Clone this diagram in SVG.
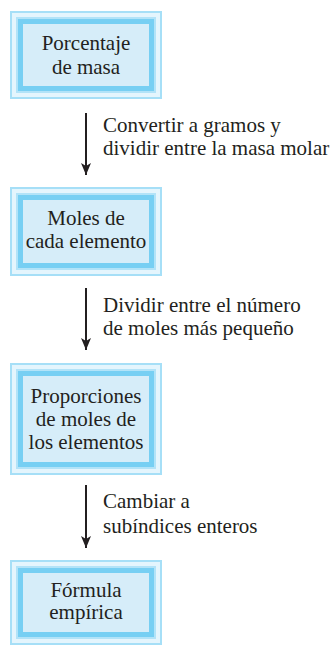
<svg xmlns="http://www.w3.org/2000/svg" width="336" height="645" viewBox="0 0 336 645">
<style>
.b0{fill:#a6dff7}
.b1{fill:#e4f5fd}
.b2{fill:#b2e3f8}
.b3{fill:#77cff3}
.b4{fill:#d6edf9}
.t{font-family:'Liberation Serif',serif !important;font-size:21px;fill:#231f20}
.c{text-anchor:middle}
.arr{stroke:#231f20;stroke-width:2;fill:none}
</style>
<defs>
<marker id="ah" viewBox="0 0 12 10" refX="12" refY="5" markerWidth="12" markerHeight="10" markerUnits="userSpaceOnUse" orient="auto">
<path d="M0,0 L12,5 L0,10 L3,5 Z" fill="#231f20"/>
</marker>
</defs>
<rect width="336" height="645" fill="#ffffff"/>
<g id="connectors">
<line class="arr" x1="86" y1="113" x2="86" y2="175" marker-end="url(#ah)"/>
<line class="arr" x1="86" y1="288" x2="86" y2="350" marker-end="url(#ah)"/>
<line class="arr" x1="86" y1="485" x2="86" y2="548" marker-end="url(#ah)"/>
</g>
<g id="label1">
<text class="t" x="103" y="132" style="font-family:'Liberation Serif',serif">Convertir a gramos y</text>
<text class="t" x="103" y="155" style="font-family:'Liberation Serif',serif">dividir entre la masa molar</text>
</g>
<g id="label2">
<text class="t" x="103" y="312" style="font-family:'Liberation Serif',serif">Dividir entre el número</text>
<text class="t" x="103" y="335" style="font-family:'Liberation Serif',serif">de moles más pequeño</text>
</g>
<g id="label3">
<text class="t" x="103" y="508" style="font-family:'Liberation Serif',serif">Cambiar a</text>
<text class="t" x="103" y="533" style="font-family:'Liberation Serif',serif">subíndices enteros</text>
</g>
<g id="node1">
<rect class="b0" x="10" y="11" width="152" height="88"/>
<rect class="b1" x="12" y="13" width="148" height="84"/>
<rect class="b2" x="16" y="17" width="140" height="76"/>
<rect class="b3" x="18" y="19" width="136" height="72"/>
<rect class="b4" x="23" y="24" width="126" height="62"/>
<text class="t c" x="86" y="50" style="font-family:'Liberation Serif',serif">Porcentaje</text>
<text class="t c" x="86" y="74" style="font-family:'Liberation Serif',serif">de masa</text>
</g>
<g id="node2">
<rect class="b0" x="10" y="187" width="152" height="89"/>
<rect class="b1" x="12" y="189" width="148" height="85"/>
<rect class="b2" x="16" y="193" width="140" height="77"/>
<rect class="b3" x="18" y="195" width="136" height="73"/>
<rect class="b4" x="23" y="200" width="126" height="63"/>
<text class="t c" x="86" y="225" style="font-family:'Liberation Serif',serif">Moles de</text>
<text class="t c" x="86" y="248" style="font-family:'Liberation Serif',serif">cada elemento</text>
</g>
<g id="node3">
<rect class="b0" x="10" y="363" width="152" height="112"/>
<rect class="b1" x="12" y="365" width="148" height="108"/>
<rect class="b2" x="16" y="369" width="140" height="100"/>
<rect class="b3" x="18" y="371" width="136" height="96"/>
<rect class="b4" x="23" y="376" width="126" height="86"/>
<text class="t c" x="86" y="403" style="font-family:'Liberation Serif',serif">Proporciones</text>
<text class="t c" x="86" y="426" style="font-family:'Liberation Serif',serif">de moles de</text>
<text class="t c" x="86" y="449" style="font-family:'Liberation Serif',serif">los elementos</text>
</g>
<g id="node4">
<rect class="b0" x="10" y="560" width="152" height="85"/>
<rect class="b1" x="12" y="562" width="148" height="81"/>
<rect class="b2" x="16" y="566" width="140" height="73"/>
<rect class="b3" x="18" y="568" width="136" height="69"/>
<rect class="b4" x="23" y="573" width="126" height="59"/>
<text class="t c" x="86" y="597" style="font-family:'Liberation Serif',serif">Fórmula</text>
<text class="t c" x="86" y="619" style="font-family:'Liberation Serif',serif">empírica</text>
</g>
</svg>
